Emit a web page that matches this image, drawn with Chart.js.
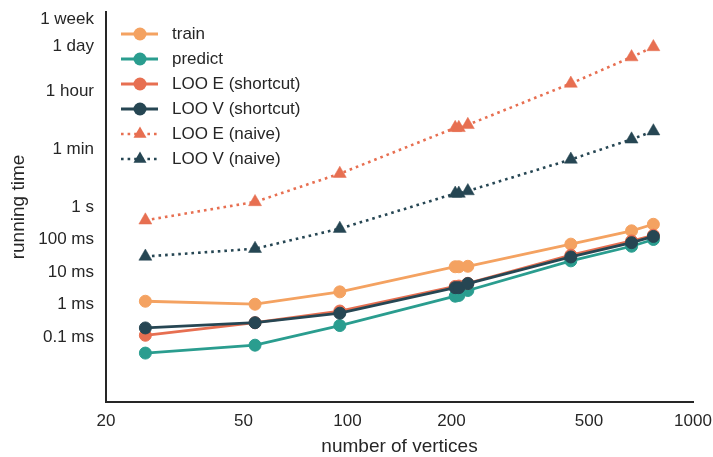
<!DOCTYPE html>
<html><head><meta charset="utf-8">
<script src="https://cdn.jsdelivr.net/npm/chart.js@4/dist/chart.umd.min.js"></script>
<style>html,body{margin:0;padding:0;background:#fff;}#wrap{width:713px;height:457px;}</style>
</head><body><div id="wrap"><canvas id="c" width="713" height="457"></canvas></div>
<script>
// ---- data (seconds) ----
const vertices = [26, 54, 95, 205, 210, 223, 443, 664, 768];
const train    = [1.26e-3, 1.02e-3, 2.45e-3, 1.45e-2, 1.45e-2, 1.5e-2, 7.2e-2, 1.85e-1, 2.94e-1];
const predict  = [3.2e-5, 5.6e-5, 2.25e-4, 1.8e-3, 1.9e-3, 2.7e-3, 2.2e-2, 6.2e-2, 1.0e-1];
const looEShortcut = [1.13e-4, 2.75e-4, 6.3e-4, 3.6e-3, 3.7e-3, 4.5e-3, 3.3e-2, 9.0e-2, 1.35e-1];
const looVShortcut = [1.9e-4, 2.75e-4, 5.4e-4, 3.3e-3, 3.3e-3, 4.4e-3, 2.9e-2, 8.0e-2, 1.24e-1];
const looENaive = [0.39, 1.43, 10.6, 273, 273, 338, 6300, 41000, 84000];
const looVNaive = [0.030, 0.052, 0.216, 2.6, 2.6, 3.1, 29, 121, 215];
const seriesNames = ['train', 'predict', 'LOO E (shortcut)', 'LOO V (shortcut)', 'LOO E (naive)', 'LOO V (naive)'];
const yTickValues = [1e-4, 1e-3, 1e-2, 1e-1, 1, 60, 3600, 86400, 604800];
const yTickLabels = ['0.1 ms', '1 ms', '10 ms', '100 ms', '1 s', '1 min', '1 hour', '1 day', '1 week'];
const xTickValues = [20, 50, 100, 200, 500, 1000];
const xTickLabels = ['20', '50', '100', '200', '500', '1000'];

const FONT = '"Liberation Sans", Arial, sans-serif';
const TXT = '#262626';
const C = {train:'#F4A261', predict:'#2A9D8F', E:'#E76F51', V:'#264653'};

function pts(arr){ return vertices.map((v,i)=>({x:v, y:arr[i]})); }
function solid(label, arr, color, order){
  return {label, data: pts(arr), borderColor: color, backgroundColor: color, borderWidth: 2.8,
    pointStyle:'circle', pointRadius: 6, pointHoverRadius: 6, pointBorderWidth: 1, pointBorderColor: color,
    pointBackgroundColor: color, tension: 0, order};
}
function dotted(label, arr, color, order){
  return {label, data: pts(arr), borderColor: color, backgroundColor: color, borderWidth: 2.6,
    borderDash: [2.6, 4], borderCapStyle: 'butt',
    pointStyle:'triangle', pointRadius: 7.5, pointHoverRadius: 7.5, pointBorderWidth: 0.5, pointBorderColor: color,
    pointBackgroundColor: color, tension: 0, order};
}

const datasets = [
  solid(seriesNames[0], train, C.train, 6),
  solid(seriesNames[1], predict, C.predict, 5),
  solid(seriesNames[2], looEShortcut, C.E, 4),
  solid(seriesNames[3], looVShortcut, C.V, 3),
  dotted(seriesNames[4], looENaive, C.E, 2),
  dotted(seriesNames[5], looVNaive, C.V, 1)
];

const legendPlugin = {
  id: 'mplLegend',
  afterDraw(chart){
    const ctx = chart.ctx, a = chart.chartArea;
    ctx.save();
    chart.data.datasets.forEach((ds, i) => {
      const y = a.top + 22 + i * 25;
      const x0 = a.left + 15, x1 = a.left + 52, xm = a.left + 34;
      ctx.strokeStyle = ds.borderColor; ctx.lineWidth = ds.borderWidth;
      ctx.setLineDash(ds.borderDash || []); ctx.lineCap = 'butt';
      ctx.beginPath(); ctx.moveTo(x0, y); ctx.lineTo(x1, y); ctx.stroke();
      ctx.setLineDash([]);
      ctx.fillStyle = ds.pointBackgroundColor;
      ctx.beginPath();
      if (ds.pointStyle === 'triangle') {
        const r = ds.pointRadius;
        ctx.moveTo(xm, y - r); ctx.lineTo(xm + r*0.866, y + r/2); ctx.lineTo(xm - r*0.866, y + r/2); ctx.closePath();
      } else {
        ctx.arc(xm, y, ds.pointRadius + 0.5, 0, Math.PI*2);
      }
      ctx.fill();
      ctx.fillStyle = TXT; ctx.font = '17px ' + FONT; ctx.textBaseline = 'middle'; ctx.textAlign = 'left';
      ctx.fillText(ds.label, a.left + 66, y);
    });
    ctx.restore();
  }
};

new Chart(document.getElementById('c'), {
  type: 'line',
  data: { datasets },
  plugins: [legendPlugin],
  options: {
    responsive: false, animation: false, devicePixelRatio: 1,
    layout: { padding: { left: 0, right: 20, top: 12, bottom: 0 } },
    plugins: { legend: { display: false }, tooltip: { enabled: false } },
    scales: {
      x: {
        type: 'logarithmic', min: 20, max: 1000,
        grid: { display: false, drawTicks: false },
        border: { display: true, color: TXT, width: 2 },
        afterBuildTicks: s => { s.ticks = xTickValues.map(v => ({ value: v })); },
        afterFit: s => { s.height = 55; s.paddingLeft = 0; s.paddingRight = 0; s.paddingTop = 0; s.paddingBottom = 0; },
        ticks: { color: TXT, font: { family: FONT, size: 17 }, padding: 9, autoSkip: false, maxRotation: 0,
          callback: (v, i) => xTickLabels[i] },
        title: { display: true, text: 'number of vertices', color: TXT,
          font: { family: FONT, size: 19, lineHeight: 1 }, padding: { top: 0, bottom: 1 } }
      },
      y: {
        type: 'logarithmic', min: 1e-6, max: 1e6,
        grid: { display: false, drawTicks: false },
        border: { display: true, color: TXT, width: 2 },
        afterBuildTicks: s => { s.ticks = yTickValues.map(v => ({ value: v })); },
        afterFit: s => { s.width = 106; s.paddingLeft = 0; s.paddingRight = 0; s.paddingTop = 0; s.paddingBottom = 0; },
        ticks: { color: TXT, font: { family: FONT, size: 17 }, padding: 12, autoSkip: false,
          callback: (v, i) => yTickLabels[i] },
        title: { display: true, text: 'running time', color: TXT,
          font: { family: FONT, size: 19, lineHeight: 1.2 }, padding: { top: 7, bottom: 0 } }
      }
    }
  }
});
</script></body></html>
